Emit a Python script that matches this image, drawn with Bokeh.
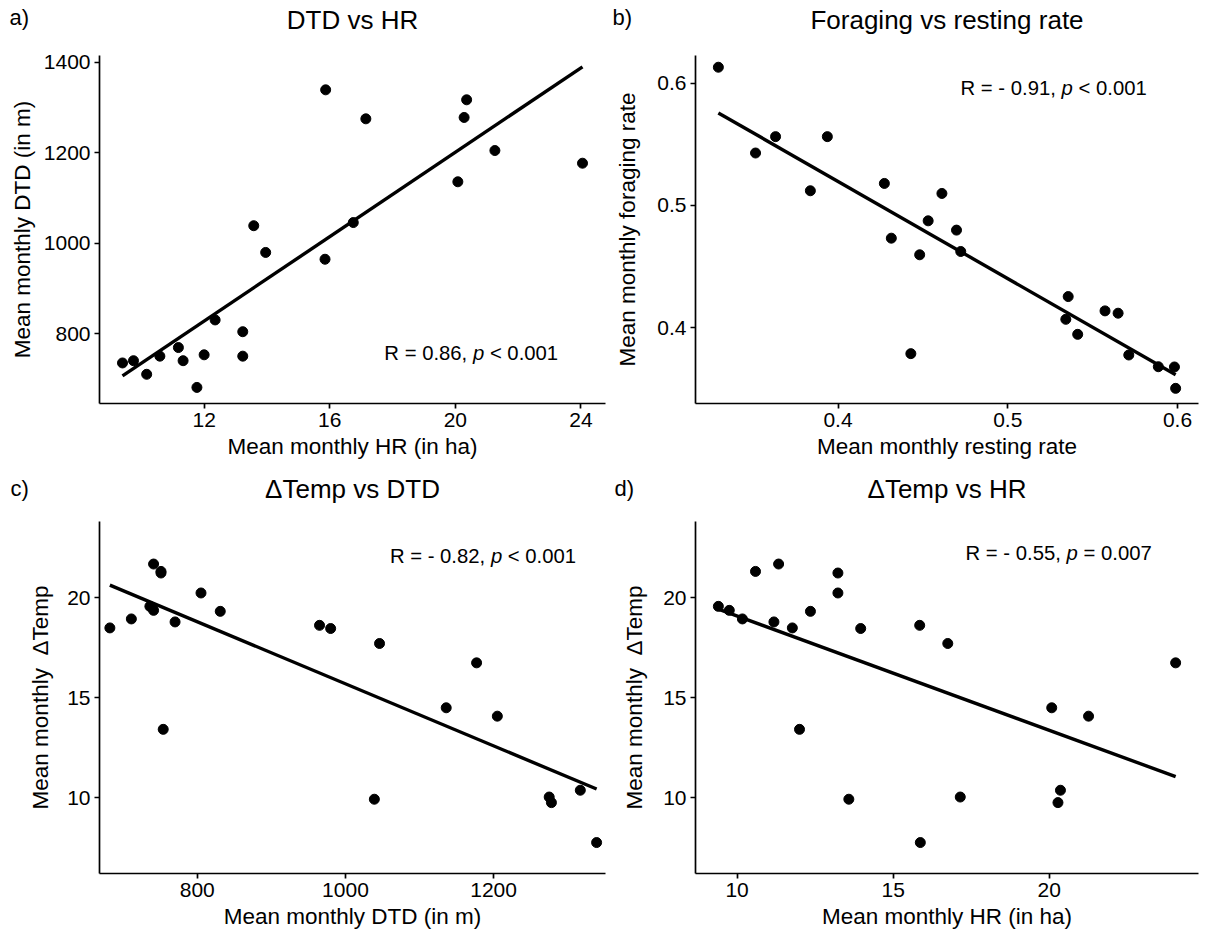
import numpy as np
from bokeh.plotting import figure
from bokeh.models import Range1d, Label
from bokeh.layouts import gridplot
from bokeh.embed import file_html
from bokeh.resources import INLINE

# Monthly means, one entry per month (same order in the three arrays)
hr_ha = [9.40, 9.75, 10.17, 10.59, 11.18, 11.33, 11.77, 12.00, 12.35, 13.23, 13.23,
         13.58, 13.96, 15.85, 15.87, 16.75, 17.15, 20.08, 20.28, 20.36, 21.26, 24.05]
dtd_m = [736, 741, 711, 751, 770, 741, 682, 754, 831, 805, 751,
         1039, 980, 965, 1339, 1046, 1275, 1136, 1278, 1317, 1205, 1177]
dtemp = [19.58, 19.38, 18.95, 21.33, 18.80, 21.70, 18.50, 13.42, 19.33, 20.25, 21.25,
         9.92, 18.47, 18.63, 7.75, 17.72, 10.03, 14.50, 9.75, 10.37, 14.08, 16.75]

# Activity budget: resting vs foraging rate
resting_rate = [0.3295, 0.3514, 0.3632, 0.3837, 0.3937, 0.4273, 0.4314, 0.4429, 0.4481,
                0.4531, 0.4612, 0.4698, 0.4723, 0.5342, 0.5356, 0.5412, 0.5573, 0.5650,
                0.5713, 0.5887, 0.5982, 0.5989]
foraging_rate = [0.6131, 0.5429, 0.5563, 0.5120, 0.5563, 0.5180, 0.4732, 0.3787, 0.4596,
                 0.4874, 0.5098, 0.4798, 0.4623, 0.4068, 0.4254, 0.3945, 0.4137, 0.4118,
                 0.3776, 0.3680, 0.3678, 0.3503]

FONT = "Liberation Sans"

# Advance widths (1/1000 em) of the Arial-metric font, for laying out the stat labels
ADV = {"R": 722, " ": 278, "=": 584, "-": 333, ".": 278, ",": 278, "<": 584, "p": 556}
for d in "0123456789":
    ADV[d] = 556


def text_width(s, size):
    return sum(ADV.get(ch, 556) for ch in s) / 1000.0 * size


def padded(vals, frac=0.05):
    lo, hi = float(min(vals)), float(max(vals))
    d = (hi - lo) * frac
    return lo - d, hi + d


def panel(x, y, xlim, ylim, xticks, yticks, xlabel, ylabel, title, tag,
          stat, stat_at, width, height, borders, head, tag_head, tag_x, ylab_gap):
    left, right, top, bottom = borders
    p = figure(width=width, height=height, output_backend="svg", toolbar_location=None,
               x_range=Range1d(*xlim), y_range=Range1d(*ylim),
               min_border_left=left, min_border_right=right,
               min_border_top=top, min_border_bottom=bottom)
    p.outline_line_color = None
    p.grid.visible = False
    p.background_fill_color = "white"
    p.border_fill_color = "white"

    p.xaxis.ticker = xticks
    p.yaxis.ticker = yticks
    p.xaxis.axis_label = xlabel
    p.yaxis.axis_label = ylabel
    for ax in p.axis:
        ax.axis_line_width = 1.7
        ax.axis_line_color = "black"
        ax.major_tick_line_width = 1.7
        ax.major_tick_line_color = "black"
        ax.major_tick_out = 5
        ax.major_tick_in = 0
        ax.minor_tick_out = 0
        ax.minor_tick_in = 0
        ax.major_label_text_font = FONT
        ax.major_label_text_font_size = "21px"
        ax.major_label_text_color = "black"
        ax.major_label_standoff = 4
        ax.axis_label_text_font = FONT
        ax.axis_label_text_font_size = "22.5px"
        ax.axis_label_text_font_style = "normal"
        ax.axis_label_text_color = "black"
        ax.axis_label_standoff = 4
    p.yaxis.axis_label_standoff = ylab_gap

    # least-squares line over the observed x span
    fit = np.polyfit(x, y, 1)
    xs = [min(x), max(x)]
    ys = list(np.polyval(fit, xs))
    p.line(xs, ys, line_width=3.4, line_color="black")
    p.scatter(x, y, size=10, fill_color="black", line_color="black")

    # panel heading and letter live in the strip above the frame
    xmid = (xlim[0] + xlim[1]) / 2.0
    p.add_layout(Label(x=xmid, y=ylim[1], y_offset=head, text=title, text_font=FONT,
                       text_font_size="26px", text_align="center",
                       text_baseline="bottom", text_color="black"), "above")
    p.add_layout(Label(x=xlim[0], y=ylim[1], x_offset=tag_x - left, y_offset=tag_head,
                       text=tag, text_font=FONT, text_font_size="22px",
                       text_align="left", text_baseline="bottom",
                       text_color="black"), "above")

    # "R = ..., p < ..." with an italic p
    lead, tail = stat
    fs = 20.3
    sx, sy = stat_at
    off = 0.0
    p.add_layout(Label(x=sx, y=sy, text=lead, text_font=FONT, text_font_size=f"{fs}px",
                       text_align="left", text_baseline="middle", text_color="black"))
    off += text_width(lead + " ", fs)
    p.add_layout(Label(x=sx, y=sy, x_offset=off, text="p", text_font=FONT,
                       text_font_style="italic", text_font_size=f"{fs}px",
                       text_align="left", text_baseline="middle", text_color="black"))
    off += text_width("p ", fs)
    p.add_layout(Label(x=sx, y=sy, x_offset=off, text=tail, text_font=FONT,
                       text_font_size=f"{fs}px", text_align="left",
                       text_baseline="middle", text_color="black"))
    return p


# a) DTD vs HR
pa = panel(hr_ha, dtd_m, padded(hr_ha), (646.5, 1414.8),
           [12, 16, 20, 24], [800, 1000, 1200, 1400],
           "Mean monthly HR (in ha)", "Mean monthly DTD (in m)", "DTD vs HR", "a)",
           ("R = 0.86,", "< 0.001"), (17.74, 758),
           608, 465, (99, 3, 51, 62), 20.5, 25.7, 9, 6)

# b) Foraging vs resting rate
pb = panel(resting_rate, foraging_rate, padded(resting_rate), (0.3379, 0.6227),
           [0.4, 0.5, 0.6], [0.4, 0.5, 0.6],
           "Mean monthly resting rate", "Mean monthly foraging rate",
           "Foraging vs resting rate", "b)",
           ("R = - 0.91,", "< 0.001"), (0.4722, 0.5965),
           598, 465, (87, 6, 51, 62), 20.5, 25.7, 4, 14)

# shared ΔTemp axis limits for the two lower panels
dtemp_lim = (6.2, 23.83)
dtemp_label = "Mean monthly\u00a0 \u0394Temp"

# c) ΔTemp vs DTD
pc = panel(dtd_m, dtemp, (668, 1351), dtemp_lim,
           [800, 1000, 1200], [10, 15, 20],
           "Mean monthly DTD (in m)", dtemp_label, "\u0394Temp vs DTD", "c)",
           ("R = - 0.82,", "< 0.001"), (1060, 22.08),
           608, 466, (99, 2, 56, 57), 17.5, 20.7, 10, 11)

# d) ΔTemp vs HR
pd_ = panel(hr_ha, dtemp, padded(hr_ha), dtemp_lim,
            [10, 15, 20], [10, 15, 20],
            "Mean monthly HR (in ha)", dtemp_label, "\u0394Temp vs HR", "d)",
            ("R = - 0.55,", "= 0.007"), (17.32, 22.25),
            598, 466, (87, 8, 56, 57), 17.5, 20.7, 6, 13)

grid = gridplot([[pa, pb], [pc, pd_]], toolbar_location=None)

open("out.html", "w").write(file_html(grid, INLINE))
